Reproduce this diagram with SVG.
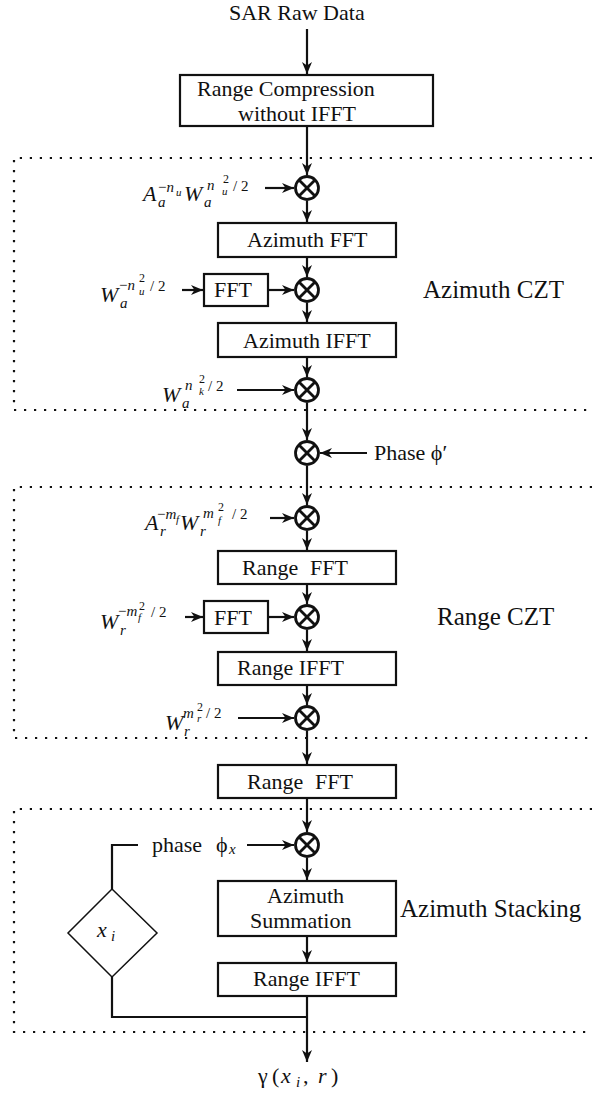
<svg xmlns="http://www.w3.org/2000/svg" width="592" height="1095" viewBox="0 0 592 1095">
<style>
text{font-family:"Liberation Serif","Times New Roman",serif;fill:#111;}
.t{font-size:22px;}
.side{font-size:25px;}
.it{font-style:italic;}
.s{font-size:15px;}
.ss{font-size:11px;}
.sn{font-size:12px;}
.box{fill:#fff;stroke:#111;stroke-width:2.2;}
.mul{fill:#fff;stroke:#111;stroke-width:2.8;}
.x{stroke:#111;stroke-width:2.8;}
.ar{fill:none;stroke:#111;stroke-width:2.2;marker-end:url(#ah);}
.ln{fill:none;stroke:#111;stroke-width:2.2;}
.dot{fill:none;stroke:#111;stroke-width:2.2;stroke-dasharray:2.2 7.8;}
.dia{fill:#fff;stroke:#111;stroke-width:1.5;}
</style>
<defs>
<marker id="ah" markerUnits="userSpaceOnUse" markerWidth="13" markerHeight="11" refX="12" refY="5" orient="auto">
<path d="M0,0 L12,5 L0,10 L3.5,5 z" fill="#111"/>
</marker>
<g id="m">
<circle cx="0" cy="0" r="11.5" class="mul"/>
<line x1="-8" y1="-8" x2="8" y2="8" class="x"/>
<line x1="-8" y1="8" x2="8" y2="-8" class="x"/>
</g>
</defs>

<g id="regions">
<path class="dot" d="M592,158 H14 V410 H592"/>
<path class="dot" d="M592,487 H14 V738 H592"/>
<path class="dot" d="M592,809 H14 V1032 H592"/>
</g>

<g id="connectors">
<line class="ar" x1="307" y1="29" x2="307" y2="74"/>
<line class="ar" x1="307" y1="126" x2="307" y2="175"/>
<line class="ar" x1="307" y1="201" x2="307" y2="222"/>
<line class="ar" x1="307" y1="257" x2="307" y2="277"/>
<line class="ar" x1="307" y1="303" x2="307" y2="322"/>
<line class="ar" x1="307" y1="357" x2="307" y2="377"/>
<line class="ar" x1="307" y1="403" x2="307" y2="440"/>
<line class="ar" x1="307" y1="466" x2="307" y2="505"/>
<line class="ar" x1="307" y1="531" x2="307" y2="550"/>
<line class="ar" x1="307" y1="584" x2="307" y2="604"/>
<line class="ar" x1="307" y1="630" x2="307" y2="651"/>
<line class="ar" x1="307" y1="685" x2="307" y2="705"/>
<line class="ar" x1="307" y1="731" x2="307" y2="764"/>
<line class="ar" x1="307" y1="798" x2="307" y2="832"/>
<line class="ar" x1="307" y1="858" x2="307" y2="880"/>
<line class="ar" x1="307" y1="936" x2="307" y2="962"/>
<line class="ar" x1="307" y1="996" x2="307" y2="1062"/>
<line class="ar" x1="265" y1="188" x2="294" y2="188"/>
<line class="ar" x1="182" y1="290" x2="203" y2="290"/>
<line class="ar" x1="268" y1="290" x2="294" y2="290"/>
<line class="ar" x1="237" y1="390" x2="294" y2="390"/>
<line class="ar" x1="367" y1="453" x2="320" y2="453"/>
<line class="ar" x1="270" y1="518" x2="294" y2="518"/>
<line class="ar" x1="185" y1="617" x2="203" y2="617"/>
<line class="ar" x1="268" y1="617" x2="294" y2="617"/>
<line class="ar" x1="238" y1="718" x2="294" y2="718"/>
<line class="ar" x1="247" y1="845" x2="294" y2="845"/>
<path class="ln" d="M112,889 V845 H138"/>
<path class="ln" d="M112,977 V1017 H307"/>
</g>

<g id="input"><text class="t" x="229" y="20">SAR Raw Data</text></g>

<g id="range-compression">
<rect class="box" x="180" y="75" width="253" height="51"/>
<text class="t" x="197" y="96">Range Compression</text>
<text class="t" x="238" y="121">without IFFT</text>
</g>

<g id="mul1"><use href="#m" x="307" y="188"/></g>
<g id="coef1">
<text class="t it" x="143" y="201">A</text>
<text class="s it" x="158" y="207">a</text>
<text class="s" x="158" y="192">−<tspan class="it">n</tspan></text>
<text class="ss it" x="176" y="196">u</text>
<text class="t it" x="184" y="201">W</text>
<text class="s it" x="204" y="207">a</text>
<text class="s it" x="207" y="190">n</text>
<text class="sn" x="223" y="183">2</text>
<text class="ss it" x="222" y="195">u</text>
<text class="s" x="233" y="191">/ 2</text>
</g>

<g id="azimuth-fft">
<rect class="box" x="218" y="223" width="178" height="34"/>
<text class="t" x="247" y="247">Azimuth FFT</text>
</g>

<g id="mul2"><use href="#m" x="307" y="290"/></g>
<g id="coef2">
<text class="t it" x="100" y="302">W</text>
<text class="s it" x="120" y="308">a</text>
<text class="s" x="119" y="290">−<tspan class="it">n</tspan></text>
<text class="sn" x="139" y="282">2</text>
<text class="ss it" x="139" y="295">u</text>
<text class="s" x="150" y="291">/ 2</text>
</g>
<g id="fft1">
<rect class="box" x="204" y="274" width="64" height="32"/>
<text class="t" x="214" y="297">FFT</text>
</g>

<g id="azimuth-ifft">
<rect class="box" x="218" y="323" width="178" height="34"/>
<text class="t" x="243" y="348">Azimuth IFFT</text>
</g>

<g id="mul3"><use href="#m" x="307" y="390"/></g>
<g id="coef3">
<text class="t it" x="162" y="402">W</text>
<text class="s it" x="182" y="408">a</text>
<text class="s it" x="185" y="390">n</text>
<text class="sn" x="199" y="383">2</text>
<text class="ss it" x="199" y="395">k</text>
<text class="s" x="208" y="391">/ 2</text>
</g>

<g id="azimuth-czt-label"><text class="side" x="423" y="298">Azimuth CZT</text></g>

<g id="mul-phase"><use href="#m" x="307" y="453"/></g>
<g id="phase-label"><text class="t" x="374" y="460">Phase ϕ′</text></g>

<g id="mul5"><use href="#m" x="307" y="518"/></g>
<g id="coef5">
<text class="t it" x="145" y="530">A</text>
<text class="s it" x="160" y="536">r</text>
<text class="s" x="157" y="519">−<tspan class="it">m</tspan></text>
<text class="ss it" x="176" y="523">f</text>
<text class="t it" x="180" y="530">W</text>
<text class="s it" x="200" y="536">r</text>
<text class="s it" x="203" y="518">m</text>
<text class="sn" x="218" y="511">2</text>
<text class="ss it" x="218" y="524">f</text>
<text class="s" x="232" y="519">/ 2</text>
</g>

<g id="range-fft">
<rect class="box" x="218" y="551" width="178" height="33"/>
<text class="t" x="242" y="575">Range<tspan x="310">FFT</tspan></text>
</g>

<g id="mul6"><use href="#m" x="307" y="617"/></g>
<g id="coef6">
<text class="t it" x="100" y="629">W</text>
<text class="s it" x="120" y="635">r</text>
<text class="s" x="118" y="616">−<tspan class="it">m</tspan></text>
<text class="sn" x="139" y="610">2</text>
<text class="ss it" x="138" y="621">f</text>
<text class="s" x="151" y="617">/ 2</text>
</g>
<g id="fft2">
<rect class="box" x="204" y="601" width="64" height="32"/>
<text class="t" x="214" y="625">FFT</text>
</g>

<g id="range-czt-label"><text class="side" x="437" y="625">Range CZT</text></g>

<g id="range-ifft">
<rect class="box" x="218" y="652" width="178" height="33"/>
<text class="t" x="237" y="675">Range IFFT</text>
</g>

<g id="mul7"><use href="#m" x="307" y="718"/></g>
<g id="coef7">
<text class="t it" x="165" y="730">W</text>
<text class="s it" x="184" y="736">r</text>
<text class="s it" x="183" y="718">m</text>
<text class="sn" x="197" y="711">2</text>
<text class="ss it" x="197" y="722">r</text>
<text class="s" x="206" y="718">/ 2</text>
</g>

<g id="range-fft-2">
<rect class="box" x="218" y="765" width="178" height="33"/>
<text class="t" x="247" y="789">Range<tspan x="315">FFT</tspan></text>
</g>

<g id="mul8"><use href="#m" x="307" y="845"/></g>
<g id="phase-x-label">
<text class="t" x="152" y="852">phase</text>
<text class="t" x="216" y="852">ϕ</text>
<text class="s it" x="229" y="854">x</text>
</g>

<g id="xi-decision">
<polygon class="dia" points="112,889 157,933 112,977 68,933"/>
<text class="t it" x="97" y="937">x</text>
<text class="s it" x="111" y="941">i</text>
</g>

<g id="azimuth-summation">
<rect class="box" x="218" y="881" width="178" height="55"/>
<text class="t" x="267" y="903">Azimuth</text>
<text class="t" x="250" y="928">Summation</text>
</g>

<g id="azimuth-stacking-label"><text class="side" x="400" y="917">Azimuth Stacking</text></g>

<g id="range-ifft-2">
<rect class="box" x="218" y="963" width="178" height="33"/>
<text class="t" x="253" y="986">Range IFFT</text>
</g>

<g id="output">
<text class="t" x="258" y="1083">γ<tspan x="272">(</tspan><tspan x="281" class="it">x</tspan><tspan x="296" y="1087" class="s it">i</tspan><tspan x="303" y="1083">,</tspan><tspan x="318" class="it">r</tspan><tspan x="331">)</tspan></text>
</g>
</svg>
